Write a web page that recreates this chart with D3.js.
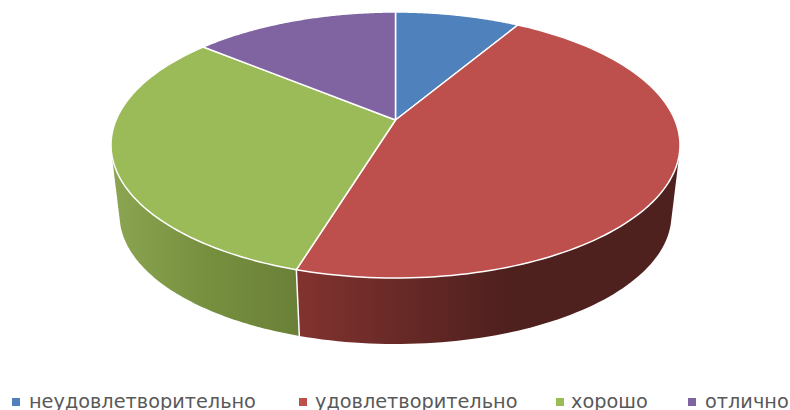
<!DOCTYPE html>
<html>
<head>
<meta charset="utf-8">
<script src="https://cdn.jsdelivr.net/npm/d3@7"></script>
<style>
html,body{margin:0;padding:0;background:#fff;overflow:hidden}
svg{display:block}
</style>
</head>
<body>
<svg id="chart" width="790" height="410"></svg>
<script>
const categories = ["неудовлетворительно", "удовлетворительно", "хорошо", "отлично"];
const values = [8.5, 46.2, 31.3, 14];
const colors = ["#4f81bd", "#bd4f4c", "#9bbb59", "#8064a2"];
const wallStops = [
  [["0", "#39608e"], ["1", "#39608e"]],
  [["0", "#82332f"], ["0.55", "#4e201e"], ["1", "#4e201e"]],
  [["0", "#8ca552"], ["0.5", "#76903f"], ["1", "#6a8038"]],
  [["0", "#5f4a79"], ["1", "#5f4a79"]]
];
const legendTextX = [29, 315, 571, 705];
const legendSwatchX = [12, 299, 556, 688];

const svg = d3.select("#chart");
const defs = svg.append("defs");

// Perspective model of the tilted disc
const k = 0.188, A = 279.4, B = 128.3;
const topX = d3.scaleLinear().domain([-1, 1]).range([395.5 - A, 395.5 + A]);
const topY = d3.scaleLinear().domain([-1, 1]).range([120 + B, 120 - B]);
const apex = [topX(0), topY(0)];
const depthScale = 0.97, lowerCy = 215, upperCy = 145;

function rim(theta) {
  const u = Math.sin(theta), v = Math.cos(theta), w = 1 + k * v;
  return [topX(u / w), topY(v / w)];
}
function lowerRim(theta) {
  const p = rim(theta);
  return [395.5 + (p[0] - 395.5) * depthScale,
          lowerCy + (p[1] - upperCy) * depthScale];
}
const line = d3.line();
const samples = (a, b) => d3.range(0, 121).map(i => a + (b - a) * i / 120);

const arcs = d3.pie().sort(null).value(d => d)(values);

// Walls
arcs.forEach((d, i) => {
  const ts = samples(d.startAngle, d.endAngle);
  const up = ts.map(rim), low = ts.map(lowerRim);
  const pts = up.concat(low);
  const xs = pts.map(p => p[0]);
  const id = "wall" + i;
  const g = defs.append("linearGradient").attr("id", id)
    .attr("gradientUnits", "userSpaceOnUse")
    .attr("x1", d3.min(xs)).attr("x2", d3.max(xs))
    .attr("y1", 0).attr("y2", 0);
  wallStops[i].forEach(s => g.append("stop").attr("offset", s[0]).attr("stop-color", s[1]));
  svg.append("path")
    .attr("d", line(d3.polygonHull(pts)) + "Z")
    .attr("fill", `url(#${id})`);
});

// Wall dividers that face the viewer
arcs.forEach(d => {
  const t = d.endAngle;
  if (Math.cos(t) < -0.5) {
    svg.append("path").attr("d", line([rim(t), lowerRim(t)]))
      .attr("stroke", "#fff").attr("stroke-width", 1.5).attr("fill", "none");
  }
});

// Top faces
arcs.forEach((d, i) => {
  const pts = [apex].concat(samples(d.startAngle, d.endAngle).map(rim));
  svg.append("path")
    .attr("d", line(pts) + "Z")
    .attr("fill", colors[i])
    .attr("stroke", "#fff")
    .attr("stroke-width", 1.5)
    .attr("stroke-linejoin", "round");
});

// Legend
categories.forEach((c, i) => {
  svg.append("rect")
    .attr("x", legendSwatchX[i]).attr("y", 398)
    .attr("width", 8).attr("height", 8)
    .attr("fill", colors[i]);
  svg.append("text")
    .attr("x", legendTextX[i]).attr("y", 408)
    .attr("font-family", "'DejaVu Sans', sans-serif")
    .attr("font-size", 19.3)
    .attr("fill", "#595959")
    .text(c);
});
</script>
</body>
</html>
